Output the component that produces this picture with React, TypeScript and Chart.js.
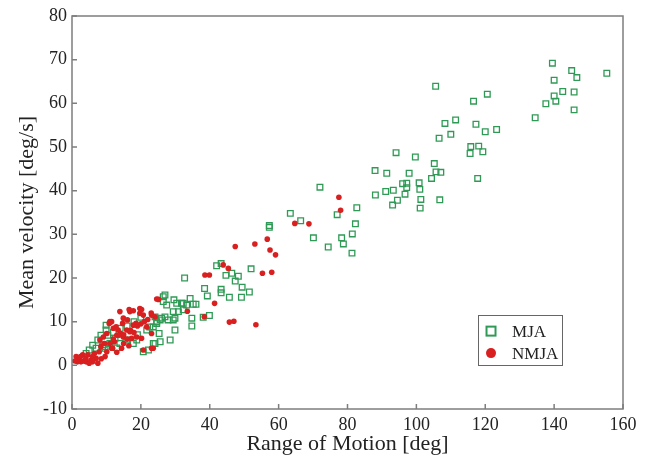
import React, { useEffect, useRef } from "react";
import { Chart, registerables } from "chart.js";

Chart.register(...registerables);

const FONT = "'Liberation Serif', 'Times New Roman', serif";

const seriesNames = ["MJA", "NMJA"];

const mjaX = [
  139.5, 145.1, 146.6, 155.3, 140.0, 142.5, 145.8, 140.0, 140.5, 137.6, 145.8, 134.5,
  105.6, 116.6, 120.6, 108.3, 111.4, 117.3, 120.0, 123.3, 106.6, 110.0, 115.8, 118.1, 115.6, 119.3, 117.8,
  94.1, 99.7, 91.4, 97.9, 105.2, 105.7, 107.1, 104.4, 96.0, 97.2, 97.2, 100.8, 101.0, 91.1, 93.3, 96.7, 94.5, 93.1, 101.3, 101.1, 106.8,
  88.0, 88.1, 72.0, 82.7, 77.0, 82.3, 81.4, 78.3, 78.8, 74.4, 81.3, 70.1, 66.4, 63.4, 57.3, 57.3, 52.0,
  42.0, 43.3, 44.7, 46.4, 48.3, 47.4, 49.4, 32.7, 38.5, 43.3, 43.3, 45.7, 49.2, 51.5, 39.3,
  31.8, 33.3, 34.3, 35.2, 36.0, 34.8, 34.8, 39.9, 38.1,
  27.0, 26.5, 29.6, 30.4, 32.3, 29.4, 30.9, 32.3, 27.0, 27.9, 29.4, 29.9, 29.9, 25.6, 28.5, 24.1, 23.6, 24.6, 26.0,
  26.5, 27.5, 24.1, 25.6, 24.6, 22.6, 21.7, 25.3, 23.6, 17.8, 18.8, 15.9, 13.9, 12.5, 11.0, 9.6, 9.1, 20.7, 22.2,
  6.0, 7.5, 8.4, 9.9, 10.4, 8.9, 5.0, 4.1, 9.9, 7.0,
  12.0, 14.0, 16.0, 18.0, 20.0, 13.0, 19.0,
];
const mjaY = [
  69.2, 67.5, 65.9, 66.9, 65.3, 62.7, 62.6, 61.7, 60.5, 59.9, 58.5, 56.7,
  63.9, 60.5, 62.1, 55.4, 56.2, 55.2, 53.5, 54.0, 52.0, 52.9, 50.1, 50.2, 48.5, 48.9, 42.8,
  48.7, 47.7, 44.0, 44.0, 46.2, 44.3, 44.2, 42.8, 41.6, 41.7, 40.7, 41.8, 40.3, 39.8, 40.1, 39.2, 37.8, 36.7, 38.0, 36.0, 37.9,
  44.6, 39.0, 40.8, 36.1, 34.5, 32.4, 30.1, 29.2, 27.8, 27.1, 25.7, 29.2, 33.1, 34.8, 32.0, 31.6, 22.1,
  22.8, 23.3, 20.6, 21.1, 20.4, 19.3, 17.9, 20.0, 17.6, 17.4, 16.6, 15.6, 15.6, 16.8, 15.9,
  14.2, 13.8, 15.3, 14.0, 14.0, 10.8, 9.0, 11.4, 11.0,
  16.1, 14.6, 15.0, 14.2, 14.2, 12.3, 12.3, 12.7, 11.1, 10.4, 10.4, 10.8, 8.1, 5.4, 5.8, 5.0, 8.8, 10.0, 10.8,
  15.7, 13.8, 11.1, 10.4, 9.6, 8.8, 8.1, 7.3, 5.0, 5.0, 5.8, 5.8, 5.0, 6.2, 5.0, 3.9, 4.7, 3.1, 3.5,
  4.6, 5.8, 6.9, 8.1, 6.9, 4.3, 3.5, 2.7, 9.2, 3.9,
  7.5, 8.5, 9.0, 10.0, 11.0, 4.0, 7.0,
];

const nmjaX = [
  77.5, 78.0, 64.7, 68.8, 56.7, 53.1, 57.5, 59.1, 47.4, 43.9, 45.4, 38.6, 39.9, 55.3, 58.0, 41.4, 33.5, 38.4, 45.7, 47.0, 53.4,
  25.1, 23.1, 24.1, 23.1, 23.6, 24.6, 13.9, 11.5, 16.8, 19.7, 20.7,
  16.6, 17.8, 20.2, 19.7, 14.9, 16.1, 11.0, 18.6, 17.8, 12.0, 13.4, 14.1, 13.0, 14.9, 10.1, 9.1, 8.1, 11.5, 10.1, 9.6, 14.4, 23.1, 20.7,
  17.3, 18.8, 20.2, 15.9, 16.8, 21.7,
  1.2, 2.1, 3.1, 4.1, 5.5, 7.0, 6.5, 7.9, 8.4, 9.4, 10.8, 11.8, 12.3, 12.8, 13.7, 14.7, 2.6, 1.6, 4.6, 6.0,
  15.0, 16.0, 17.0, 18.0, 19.0, 20.0, 21.0, 22.0, 12.0, 11.0, 15.0, 16.5, 13.0, 3.5, 5.0, 7.5, 8.5, 6.0, 0.8, 4.0, 2.5, 23.0,
];
const nmjaY = [
  38.5, 35.5, 32.5, 32.4, 28.9, 27.8, 26.4, 25.3, 27.2, 23.0, 22.2, 20.7, 20.7, 21.1, 21.3, 14.2, 12.4, 11.1, 9.9, 10.1, 9.3,
  15.1, 11.5, 11.1, 7.3, 3.9, 15.2, 12.3, 10.0, 12.3, 13.0, 11.5,
  12.8, 12.5, 12.8, 11.9, 10.8, 10.4, 10.0, 9.6, 9.2, 8.5, 8.1, 7.3, 6.9, 6.5, 7.3, 6.5, 5.8, 3.9, 3.1, 2.0, 3.9, 3.9, 3.5,
  6.2, 6.5, 6.2, 8.1, 7.7, 8.8,
  2.0, 1.2, 2.4, 0.8, 1.2, 1.6, 2.7, 3.1, 4.3, 5.0, 9.6, 3.9, 5.4, 8.8, 6.9, 9.6, 0.8, 0.8, 2.4, 0.8,
  7.0, 6.0, 8.0, 7.5, 9.0, 9.5, 10.0, 10.5, 6.0, 5.0, 5.0, 4.5, 3.0, 1.0, 0.5, 0.5, 1.5, 2.0, 1.0, 1.5, 2.0, 12.0,
];

const xTitle = "Range of Motion [deg]";
const yTitle = "Mean velocity [deg/s]";
const xMin = 0, xMax = 160, xStep = 20;
const yMin = -10, yMax = 80, yStep = 10;

const GREEN = "#2f9a55";
const RED = "#d91f1f";
const FRAME = "#7e7e7e";

const framePlugin = {
  id: "frameAndLegend",
  afterDraw(chart: any) {
    const { ctx, chartArea } = chart;
    const { left, right, top, bottom } = chartArea;
    ctx.save();
    ctx.strokeStyle = FRAME;
    ctx.lineWidth = 1.5;
    ctx.strokeRect(left, top, right - left, bottom - top);
    const xs = chart.scales.x;
    const ys = chart.scales.y;
    ctx.beginPath();
    xs.ticks.forEach((t: any) => {
      const px = xs.getPixelForValue(t.value);
      ctx.moveTo(px, bottom);
      ctx.lineTo(px, bottom - 5);
    });
    ys.ticks.forEach((t: any) => {
      const py = ys.getPixelForValue(t.value);
      ctx.moveTo(left, py);
      ctx.lineTo(left + 5, py);
    });
    ctx.stroke();

    // legend box inside chart area
    const bx = xs.getPixelForValue(117.9), by = ys.getPixelForValue(11.5);
    const bw = 84, bh = 50;
    ctx.strokeStyle = "#666";
    ctx.lineWidth = 1;
    ctx.strokeRect(Math.round(bx) + 0.5, Math.round(by) + 0.5, bw, bh);
    const ds = chart.data.datasets;
    ctx.font = `17px ${FONT}`;
    ctx.fillStyle = "#222";
    ctx.textBaseline = "middle";
    const mx = bx + 13;
    const y1 = by + 16;
    ctx.strokeStyle = ds[0].borderColor;
    ctx.lineWidth = 2;
    ctx.strokeRect(mx - 4.5, y1 - 4.5, 9, 9);
    ctx.fillText(ds[0].label, bx + 34, y1 + 1);
    const y2 = by + 38;
    ctx.fillStyle = ds[1].backgroundColor;
    ctx.beginPath();
    ctx.arc(mx, y2, 5, 0, Math.PI * 2);
    ctx.fill();
    ctx.fillStyle = "#222";
    ctx.fillText(ds[1].label, bx + 34, y2 + 1);
    ctx.restore();
  },
};

export default function App() {
  const ref = useRef<HTMLCanvasElement | null>(null);
  useEffect(() => {
    document.body.style.margin = "0";
    const canvas = ref.current;
    if (!canvas) return;
    const mja = mjaX.map((x, i) => ({ x, y: mjaY[i] }));
    const nmja = nmjaX.map((x, i) => ({ x, y: nmjaY[i] }));
    const chart = new Chart(canvas, {
      type: "scatter",
      data: {
        datasets: [
          {
            label: seriesNames[0],
            data: mja,
            pointStyle: "rect",
            pointRadius: 4,
            borderColor: GREEN,
            backgroundColor: "rgba(0,0,0,0)",
            borderWidth: 1.3,
            order: 1,
          },
          {
            label: seriesNames[1],
            data: nmja,
            pointStyle: "circle",
            pointRadius: 2.8,
            borderColor: RED,
            backgroundColor: RED,
            borderWidth: 0,
            order: 0,
          },
        ],
      },
      options: {
        animation: false,
        responsive: false,
        maintainAspectRatio: false,
        layout: { padding: { top: 16, right: 26, left: 0, bottom: 0 } },
        plugins: { legend: { display: false }, tooltip: { enabled: false } },
        scales: {
          x: {
            type: "linear",
            min: xMin,
            max: xMax,
            afterFit: (s: any) => { s.height = 50; },
            grid: { display: false, drawTicks: false },
            border: { display: false },
            ticks: { stepSize: xStep, padding: 5, color: "#222", font: { family: FONT, size: 18 } },
            title: { display: true, text: xTitle, color: "#222", font: { family: FONT, size: 22 }, padding: { top: 0, bottom: 2 } },
          },
          y: {
            type: "linear",
            min: yMin,
            max: yMax,
            afterFit: (s: any) => { s.width = 72; },
            grid: { display: false, drawTicks: false },
            border: { display: false },
            ticks: { stepSize: yStep, padding: 5, color: "#222", font: { family: FONT, size: 18 } },
            title: { display: true, text: yTitle, color: "#222", font: { family: FONT, size: 22 }, padding: { top: 14, bottom: 0 } },
          },
        },
      },
      plugins: [framePlugin],
    });
    return () => chart.destroy();
  }, []);
  return (
    <div style={{ position: "absolute", left: 0, top: 0, width: 649, height: 459 }}>
      <canvas ref={ref} width={649} height={459} style={{ width: 649, height: 459 }} />
    </div>
  );
}
